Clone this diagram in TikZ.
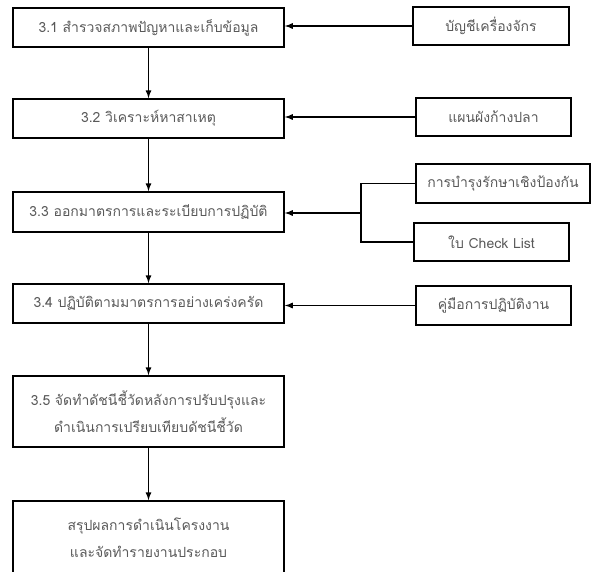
\documentclass[tikz,border=0pt]{standalone}
\usepackage{fontspec}
\newfontfamily\thaifont[Script=Thai]{Loma}
\tikzset{
  stepbox/.style={draw, line width=1.7pt, rectangle, inner sep=2pt, align=center,
    text=black!65, font=\thaifont\fontsize{14}{27}\selectfont},
  link/.style={line width=1.7pt},
  arrow/.style={line width=1.7pt, -latex}
}

\begin{document}
\begin{tikzpicture}[x=1pt,y=-1pt]
\clip (0,0) rectangle (593,571);
% main steps
\node[stepbox, minimum width=271pt, minimum height=39pt] (s1) at (148.5,27.5) {3.1 สำรวจสภาพปัญหาและเก็บข้อมูล};
\node[stepbox, minimum width=271pt, minimum height=39pt] (s2) at (148.5,118.5) {3.2 วิเคราะห์หาสาเหตุ};
\node[stepbox, minimum width=271pt, minimum height=40pt] (s3) at (148.5,212) {3.3 ออกมาตรการและระเบียบการปฏิบัติ};
\node[stepbox, minimum width=271pt, minimum height=39pt] (s4) at (148.5,303.5) {3.4 ปฏิบัติตามมาตรการอย่างเคร่งครัด};
\node[stepbox, minimum width=271pt, minimum height=71pt] (s5) at (148.5,411.5) {3.5 จัดทำดัชนีชี้วัดหลังการปรับปรุงและ\\ดำเนินการเปรียบเทียบดัชนีชี้วัด};
\node[stepbox, minimum width=271pt, minimum height=74pt] (s6) at (148.5,538) {สรุปผลการดำเนินโครงงาน\\และจัดทำรายงานประกอบ};
% inputs
\node[stepbox, minimum width=156pt, minimum height=38pt] (in1) at (491,26) {บัญชีเครื่องจักร};
\node[stepbox, minimum width=155pt, minimum height=38pt] (in2) at (493.5,117) {แผนผังก้างปลา};
\node[stepbox, minimum width=174pt, minimum height=39pt] (in3) at (503,183.5) {การบำรุงรักษาเชิงป้องกัน};
\node[stepbox, minimum width=155pt, minimum height=38pt] (in4) at (491.5,242) {ใบ Check List};
\node[stepbox, minimum width=155pt, minimum height=39pt] (in5) at (493.5,305.5) {คู่มือการปฏิบัติงาน};
% flow
\foreach \a/\b in {s1/s2,s2/s3,s3/s4,s4/s5,s5/s6} \draw[arrow] (\a) -- (\b);
\draw[arrow] (in1.west) -- (in1.west -| s1.east);
\draw[arrow] (in2.west) -- (in2.west -| s2.east);
\draw[arrow] (in5.west) -- (in5.west -| s4.east);
\coordinate (j) at (361,213);
\draw[link] (in3.west) -| (j) |- (in4.west);
\draw[arrow] (j) -- (j -| s3.east);
\end{tikzpicture}
\end{document}
